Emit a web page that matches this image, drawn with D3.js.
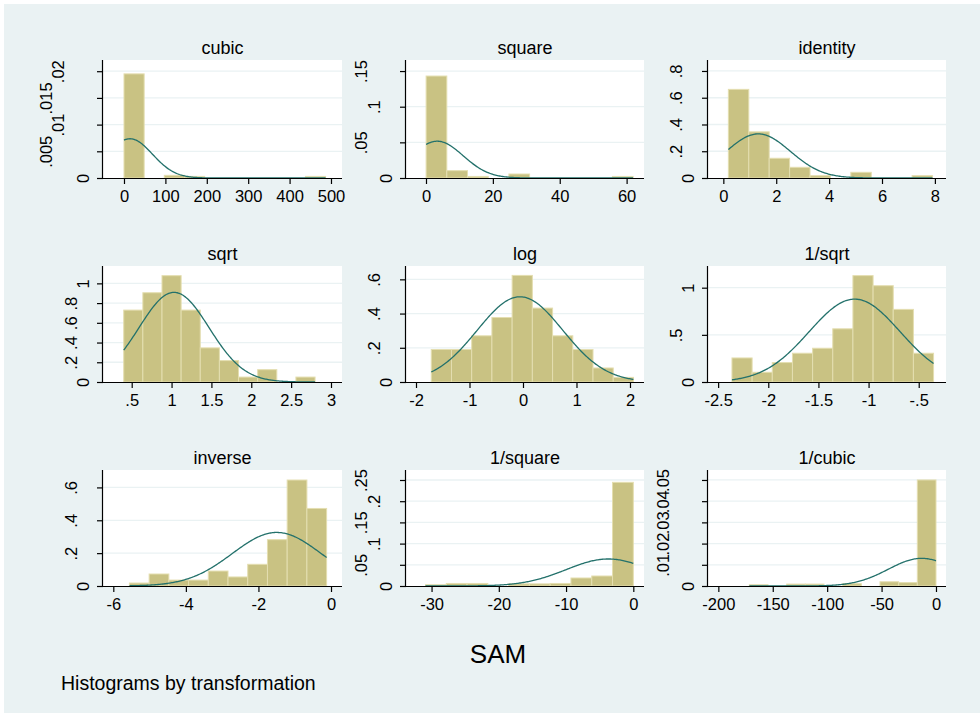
<!DOCTYPE html>
<html><head><meta charset="utf-8">
<script src="https://cdn.jsdelivr.net/npm/d3@7"></script>
<style>
body{margin:0;background:#fff}
svg{display:block}
text{font-family:"Liberation Sans",Arial,Helvetica,sans-serif;fill:#000}
</style>
</head><body><svg id="chart" width="980" height="713"></svg>
<script>
// ---------------- data ----------------
const panelTitles = ["cubic","square","identity","sqrt","log","1/sqrt","inverse","1/square","1/cubic"];
const axisTitle = "SAM";
const noteText = "Histograms by transformation";

// first bin edge and bin width of each histogram
const binStarts = [0.007, 0.036, 0.19, 0.40, -1.715, -2.362, -5.556, -30.9, -171.5];
const binWidths = [48.7, 6.19, 0.772, 0.24, 0.378, 0.201, 0.5435, 3.09, 17.15];

// bar densities (10 bins each)
const cubicDensity    = [0.0195, 0, 0.0005, 0.0003, 0, 0, 0, 0, 0, 0.0003];
const squareDensity   = [0.143, 0.0103, 0.0022, 0, 0.0056, 0, 0, 0, 0, 0.0022];
const identityDensity = [0.6625, 0.345, 0.1475, 0.08, 0.0175, 0, 0.0425, 0, 0, 0.0175];
const sqrtDensity     = [0.729, 0.905, 1.078, 0.729, 0.346, 0.217, 0.05, 0.125, 0, 0.05];
const logDensity      = [0.19, 0.19, 0.27, 0.377, 0.623, 0.432, 0.27, 0.19, 0.082, 0.027];
const invSqrtDensity  = [0.255, 0.103, 0.206, 0.305, 0.358, 0.564, 1.128, 1.021, 0.77, 0.305];
const inverseDensity  = [0.018, 0.073, 0.036, 0.036, 0.091, 0.055, 0.132, 0.282, 0.645, 0.472];
const invSquareDensity= [0.003, 0.006, 0.006, 0, 0.005, 0.005, 0.006, 0.0189, 0.0236, 0.2445];
const invCubicDensity = [0.0006, 0, 0.0009, 0.0009, 0, 0.0011, 0, 0.002, 0.0016, 0.05];
const densities = [cubicDensity, squareDensity, identityDensity, sqrtDensity, logDensity,
                   invSqrtDensity, inverseDensity, invSquareDensity, invCubicDensity];

// normal overlay: mean and standard deviation of each transformed variable
const normalMeans = [14.5, 3.37, 1.32, 1.031, -0.056, -1.139, -1.496, -3.72, -13.2];
const normalSDs   = [54.3, 7.73, 1.21, 0.439, 0.801, 0.454, 1.224, 6.26, 30.57];

// axis ranges
const xDomains = [[-50.7, 526.6], [-5.98, 65.2], [-0.58, 8.42], [0.14, 3.138], [-2.187, 2.262],
                  [-2.601, -0.228], [-6.284, 0.303], [-33.8, 1.59], [-209.5, 9.2]];
const yMaxes = [0.0221, 0.1655, 0.882, 1.176, 0.678, 1.23, 0.706, 0.2736, 0.0547];

// tick values
const xTicks = [[0,100,200,300,400,500], [0,20,40,60], [0,2,4,6,8], [0.5,1,1.5,2,2.5,3],
                [-2,-1,0,1,2], [-2.5,-2,-1.5,-1,-0.5], [-6,-4,-2,0], [-30,-20,-10,0],
                [-200,-150,-100,-50,0]];
const yTicks = [[0,0.005,0.01,0.015,0.02], [0,0.05,0.1,0.15], [0,0.2,0.4,0.6,0.8],
                [0,0.2,0.4,0.6,0.8,1], [0,0.2,0.4,0.6], [0,0.5,1], [0,0.2,0.4,0.6],
                [0,0.05,0.1,0.15,0.2,0.25], [0,0.01,0.02,0.03,0.04,0.05]];

// ---------------- layout ----------------
const W = 980, H = 713;
const colX = [[103, 342], [406, 644], [708, 946]];
const rowY = [[60, 178], [266, 382], [470, 586]];
const C = {
  bg: "#eaf2f3", plot: "#ffffff", grid: "#eaf2f3",
  bar: "#c9c283", barEdge: "#e4deb0", curve: "#23716b", axis: "#000"
};
const fmt = v => String(+v.toFixed(6)).replace(/^0\./, ".").replace(/^-0\./, "-.");

const svg = d3.select("#chart");
svg.append("rect").attr("x", 4).attr("y", 4).attr("width", W - 4).attr("height", H - 4).attr("fill", C.bg);

panelTitles.forEach((title, i) => {
  const col = i % 3, row = Math.floor(i / 3);
  const [x0, x1] = colX[col], [y0, y1] = rowY[row];
  const x = d3.scaleLinear().domain(xDomains[i]).range([x0, x1]);
  const y = d3.scaleLinear().domain([0, yMaxes[i]]).range([y1, y0]);
  const g = svg.append("g");

  g.append("rect").attr("x", x0).attr("y", y0).attr("width", x1 - x0).attr("height", y1 - y0).attr("fill", C.plot);

  // gridlines
  g.selectAll("line.grid").data(yTicks[i].filter(t => t !== 0)).join("line")
    .attr("x1", x0).attr("x2", x1).attr("y1", d => y(d)).attr("y2", d => y(d))
    .attr("stroke", C.grid).attr("stroke-width", 1.3);

  // bars
  const bins = densities[i].map((d, k) => ({
    a: binStarts[i] + k * binWidths[i], b: binStarts[i] + (k + 1) * binWidths[i], d
  })).filter(b => b.d > 0);
  g.selectAll("rect.bar").data(bins).join("rect")
    .attr("x", b => x(b.a)).attr("width", b => x(b.b) - x(b.a))
    .attr("y", b => y(b.d)).attr("height", b => y(0) - y(b.d))
    .attr("fill", C.bar).attr("stroke", C.barEdge).attr("stroke-width", 1);

  // normal density overlay over the data range
  const lo = binStarts[i], hi = binStarts[i] + 10 * binWidths[i];
  const m = normalMeans[i], s = normalSDs[i];
  const pts = d3.range(0, 201).map(k => {
    const v = lo + (hi - lo) * k / 200;
    return [v, Math.exp(-0.5 * ((v - m) / s) ** 2) / (s * Math.sqrt(2 * Math.PI))];
  });
  g.append("path").datum(pts)
    .attr("d", d3.line().x(p => x(p[0])).y(p => y(p[1])))
    .attr("fill", "none").attr("stroke", C.curve).attr("stroke-width", 1.3);

  // x axis
  const xa = g.append("g").attr("transform", `translate(0,${y1})`)
    .call(d3.axisBottom(x).tickValues(xTicks[i]).tickSize(6).tickPadding(7).tickFormat(fmt));
  xa.select(".domain").attr("d", `M${x0},0.5H${x1}`).attr("stroke", C.axis).attr("stroke-width", 1.2);
  xa.selectAll(".tick line").attr("stroke", C.axis).attr("stroke-width", 1.2);
  xa.selectAll(".tick text").attr("font-size", "16.5px").attr("font-family", null).attr("dy", null)
    .attr("y", 23.5).attr("fill", "#000");

  // y axis
  const ya = g.append("g").attr("transform", `translate(${x0},0)`)
    .call(d3.axisLeft(y).tickValues(yTicks[i]).tickSize(6).tickFormat(fmt));
  ya.select(".domain").attr("d", `M-0.5,${y0}V${y1}`).attr("stroke", C.axis).attr("stroke-width", 1.2);
  ya.selectAll(".tick line").attr("stroke", C.axis).attr("stroke-width", 1.2);
  ya.selectAll(".tick text").each(function (d) {
    const lab = fmt(d);
    const off = 14 + 12.5 * (lab.length - 1);
    d3.select(this).attr("x", null).attr("dy", null).attr("font-family", null)
      .attr("font-size", "16.5px").attr("text-anchor", "middle").attr("fill", "#000")
      .attr("transform", `translate(${-off},0) rotate(-90)`);
  });

  // panel title
  g.append("text").attr("x", (x0 + x1) / 2).attr("y", y0 - 6.5).attr("text-anchor", "middle")
    .attr("font-size", "18px").text(title);
});

svg.append("text").attr("x", 498).attr("y", 663).attr("text-anchor", "middle")
  .attr("font-size", "26px").text(axisTitle);
svg.append("text").attr("x", 61).attr("y", 690).attr("font-size", "19.5px").text(noteText);
</script>
</body></html>
